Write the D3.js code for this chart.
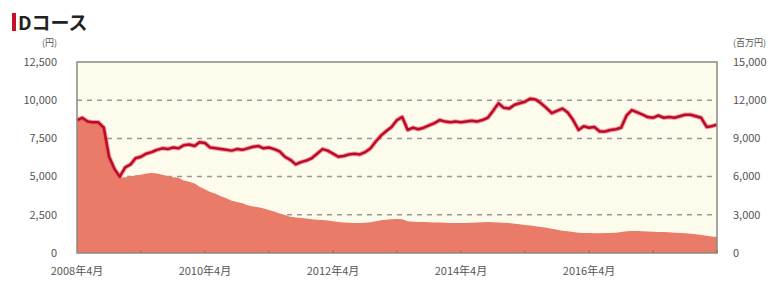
<!DOCTYPE html>
<html lang="ja">
<head>
  <meta charset="UTF-8">
  <title>Dコース</title>
  <script src="https://d3js.org/d3.v7.min.js"></script>
  <style>
    body { margin: 0; background: #fff; font-family: "Noto Sans CJK JP", "Noto Sans", sans-serif; }
    text { fill: #555; }
  </style>
</head>
<body>
  <svg id="chart" width="783" height="283"></svg>
  <script>
    // 基準価額（円）月次
    const navData = [
      ["2008-04", 8700], ["2008-05", 8850], ["2008-06", 8600], ["2008-07", 8550], ["2008-08", 8550], ["2008-09", 8200],
      ["2008-10", 6300], ["2008-11", 5500], ["2008-12", 5000],
      ["2009-01", 5600], ["2009-02", 5800], ["2009-03", 6200], ["2009-04", 6300], ["2009-05", 6500], ["2009-06", 6600],
      ["2009-07", 6750], ["2009-08", 6850], ["2009-09", 6800], ["2009-10", 6900], ["2009-11", 6850], ["2009-12", 7050],
      ["2010-01", 7100], ["2010-02", 7000], ["2010-03", 7250], ["2010-04", 7200], ["2010-05", 6900], ["2010-06", 6850],
      ["2010-07", 6800], ["2010-08", 6750], ["2010-09", 6700], ["2010-10", 6800], ["2010-11", 6750], ["2010-12", 6850],
      ["2011-01", 6950], ["2011-02", 7000], ["2011-03", 6850], ["2011-04", 6900], ["2011-05", 6800], ["2011-06", 6650],
      ["2011-07", 6300], ["2011-08", 6100], ["2011-09", 5800], ["2011-10", 5950], ["2011-11", 6050], ["2011-12", 6200],
      ["2012-01", 6500], ["2012-02", 6800], ["2012-03", 6700], ["2012-04", 6500], ["2012-05", 6300], ["2012-06", 6350],
      ["2012-07", 6450], ["2012-08", 6500], ["2012-09", 6450], ["2012-10", 6600], ["2012-11", 6850], ["2012-12", 7300],
      ["2013-01", 7700], ["2013-02", 8000], ["2013-03", 8250], ["2013-04", 8700], ["2013-05", 8900], ["2013-06", 8050],
      ["2013-07", 8200], ["2013-08", 8100], ["2013-09", 8200], ["2013-10", 8350], ["2013-11", 8500], ["2013-12", 8700],
      ["2014-01", 8600], ["2014-02", 8550], ["2014-03", 8600], ["2014-04", 8550], ["2014-05", 8600], ["2014-06", 8650],
      ["2014-07", 8600], ["2014-08", 8700], ["2014-09", 8850], ["2014-10", 9300], ["2014-11", 9800], ["2014-12", 9500],
      ["2015-01", 9450], ["2015-02", 9700], ["2015-03", 9800], ["2015-04", 9900], ["2015-05", 10100], ["2015-06", 10050],
      ["2015-07", 9800], ["2015-08", 9500], ["2015-09", 9150], ["2015-10", 9300], ["2015-11", 9450], ["2015-12", 9200],
      ["2016-01", 8700], ["2016-02", 8050], ["2016-03", 8300], ["2016-04", 8200], ["2016-05", 8250], ["2016-06", 7950],
      ["2016-07", 7950], ["2016-08", 8050], ["2016-09", 8100], ["2016-10", 8200], ["2016-11", 9000], ["2016-12", 9350],
      ["2017-01", 9200], ["2017-02", 9050], ["2017-03", 8900], ["2017-04", 8850], ["2017-05", 9000], ["2017-06", 8850],
      ["2017-07", 8900], ["2017-08", 8850], ["2017-09", 8950], ["2017-10", 9050], ["2017-11", 9050], ["2017-12", 8950],
      ["2018-01", 8850], ["2018-02", 8250], ["2018-03", 8300], ["2018-04", 8400]
    ];

    // 純資産総額（百万円）月次
    const assetData = [
      ["2008-04", 10400], ["2008-05", 10600], ["2008-06", 10300], ["2008-07", 10200], ["2008-08", 10200], ["2008-09", 9900],
      ["2008-10", 7600], ["2008-11", 6500], ["2008-12", 5900],
      ["2009-01", 5950], ["2009-02", 6000], ["2009-03", 6100], ["2009-04", 6150], ["2009-05", 6250], ["2009-06", 6280],
      ["2009-07", 6250], ["2009-08", 6150], ["2009-09", 6050], ["2009-10", 5950], ["2009-11", 5900], ["2009-12", 5700],
      ["2010-01", 5600], ["2010-02", 5450], ["2010-03", 5200], ["2010-04", 5000], ["2010-05", 4800], ["2010-06", 4650],
      ["2010-07", 4450], ["2010-08", 4300], ["2010-09", 4100], ["2010-10", 4000], ["2010-11", 3900], ["2010-12", 3750],
      ["2011-01", 3650], ["2011-02", 3600], ["2011-03", 3500], ["2011-04", 3380], ["2011-05", 3250], ["2011-06", 3100],
      ["2011-07", 2980], ["2011-08", 2850], ["2011-09", 2780], ["2011-10", 2750], ["2011-11", 2700], ["2011-12", 2650],
      ["2012-01", 2620], ["2012-02", 2590], ["2012-03", 2560], ["2012-04", 2500], ["2012-05", 2430], ["2012-06", 2400],
      ["2012-07", 2380], ["2012-08", 2360], ["2012-09", 2360], ["2012-10", 2380], ["2012-11", 2420], ["2012-12", 2500],
      ["2013-01", 2580], ["2013-02", 2620], ["2013-03", 2650], ["2013-04", 2680], ["2013-05", 2650], ["2013-06", 2500],
      ["2013-07", 2450], ["2013-08", 2430], ["2013-09", 2430], ["2013-10", 2420], ["2013-11", 2400], ["2013-12", 2400],
      ["2014-01", 2380], ["2014-02", 2360], ["2014-03", 2360], ["2014-04", 2350], ["2014-05", 2360], ["2014-06", 2380],
      ["2014-07", 2400], ["2014-08", 2420], ["2014-09", 2430], ["2014-10", 2420], ["2014-11", 2400], ["2014-12", 2380],
      ["2015-01", 2350], ["2015-02", 2300], ["2015-03", 2250], ["2015-04", 2200], ["2015-05", 2150], ["2015-06", 2100],
      ["2015-07", 2050], ["2015-08", 1980], ["2015-09", 1900], ["2015-10", 1820], ["2015-11", 1750], ["2015-12", 1700],
      ["2016-01", 1650], ["2016-02", 1600], ["2016-03", 1580], ["2016-04", 1570], ["2016-05", 1560], ["2016-06", 1560],
      ["2016-07", 1570], ["2016-08", 1580], ["2016-09", 1600], ["2016-10", 1650], ["2016-11", 1700], ["2016-12", 1730],
      ["2017-01", 1720], ["2017-02", 1700], ["2017-03", 1680], ["2017-04", 1660], ["2017-05", 1650], ["2017-06", 1640],
      ["2017-07", 1620], ["2017-08", 1600], ["2017-09", 1580], ["2017-10", 1560], ["2017-11", 1520], ["2017-12", 1480],
      ["2018-01", 1420], ["2018-02", 1360], ["2018-03", 1300], ["2018-04", 1260]
    ];

    const leftTicks = [0, 2500, 5000, 7500, 10000, 12500];
    const rightTicks = [0, 3000, 6000, 9000, 12000, 15000];
    const labelYears = ["2008-04", "2010-04", "2012-04", "2014-04", "2016-04"];

    const parse = d3.timeParse("%Y-%m");
    const nav = navData.map(([d, v]) => ({ date: parse(d), v }));
    const assets = assetData.map(([d, v]) => ({ date: parse(d), v }));

    const svg = d3.select("#chart");
    const margin = { top: 62, right: 66, bottom: 30, left: 77 };
    const width = 783 - margin.left - margin.right,
          height = 283 - margin.top - margin.bottom;

    // タイトル
    svg.append("rect").attr("x", 12).attr("y", 13).attr("width", 4).attr("height", 18).attr("fill", "#c8102e");
    svg.append("text")
       .attr("x", 18).attr("y", 30)
       .style("font-size", "19px").style("font-weight", "bold").style("fill", "#222")
       .text("Dコース");

    const g = svg.append("g").attr("transform", `translate(${margin.left},${margin.top})`);

    const x = d3.scaleTime()
        .domain([parse("2008-04"), parse("2018-04")])
        .range([0, width]);
    const yL = d3.scaleLinear().domain([0, 12500]).range([height, 0]);
    const yR = d3.scaleLinear().domain([0, 15000]).range([height, 0]);

    // 背景
    g.append("rect").attr("width", width).attr("height", height).attr("fill", "#fdfbec");

    // グリッド線
    g.selectAll(".grid")
     .data(leftTicks.filter(t => t > 0 && t < 12500))
     .enter().append("line")
     .attr("x1", 0).attr("x2", width)
     .attr("y1", d => yL(d)).attr("y2", d => yL(d))
     .attr("stroke", "#999").attr("stroke-width", 1.5).attr("stroke-dasharray", "5,5");

    // 純資産総額（面）
    const area = d3.area()
        .x(d => x(d.date))
        .y0(height)
        .y1(d => yR(d.v));
    g.append("path").datum(assets).attr("fill", "#ea7b68").attr("d", area);

    // 基準価額（線）
    const line = d3.line()
        .x(d => x(d.date))
        .y(d => yL(d.v));
    g.append("path").datum(nav)
     .attr("fill", "none").attr("stroke", "#f04050").attr("stroke-opacity", 0.5)
     .attr("stroke-width", 4.5).attr("stroke-linejoin", "round").attr("d", line);
    g.append("path").datum(nav)
     .attr("fill", "none").attr("stroke", "#b80c2a")
     .attr("stroke-width", 2.5).attr("stroke-linejoin", "round").attr("d", line);

    // 枠線
    g.append("rect").attr("width", width).attr("height", height)
     .attr("fill", "none").attr("stroke", "#8a8a80").attr("stroke-width", 1.5);

    // 年ごとの目盛り
    const yearTicks = d3.timeYear.range(parse("2009-01"), parse("2018-04"))
        .map(d => d3.timeMonth.offset(d, 3));
    g.selectAll(".xtick").data(yearTicks).enter().append("line")
     .attr("x1", d => x(d)).attr("x2", d => x(d))
     .attr("y1", height).attr("y2", height - 3)
     .attr("stroke", "#8a6a60");

    // X軸ラベル
    g.selectAll(".xlabel").data(labelYears).enter().append("text")
     .attr("x", d => x(parse(d)))
     .attr("y", height + 22)
     .attr("text-anchor", "middle")
     .style("font-size", "11px")
     .text(d => d.replace(/^(\d{4})-0?(\d+)$/, "$1年$2月"));

    // 左軸ラベル
    g.selectAll(".ylabelL").data(leftTicks).enter().append("text")
     .attr("x", -20).attr("y", d => yL(d)).attr("dy", "0.35em")
     .attr("text-anchor", "end")
     .style("font-size", "11px")
     .text(d => d3.format(",")(d));
    g.append("text").attr("x", -20).attr("y", -16).attr("text-anchor", "end")
     .style("font-size", "9px").text("(円)");

    // 右軸ラベル
    g.selectAll(".ylabelR").data(rightTicks).enter().append("text")
     .attr("x", width + 16).attr("y", d => yR(d)).attr("dy", "0.35em")
     .attr("text-anchor", "start")
     .style("font-size", "11px")
     .text(d => d3.format(",")(d));
    g.append("text").attr("x", width + 16).attr("y", -16).attr("text-anchor", "start")
     .style("font-size", "9px").text("(百万円)");
  </script>
</body>
</html>
